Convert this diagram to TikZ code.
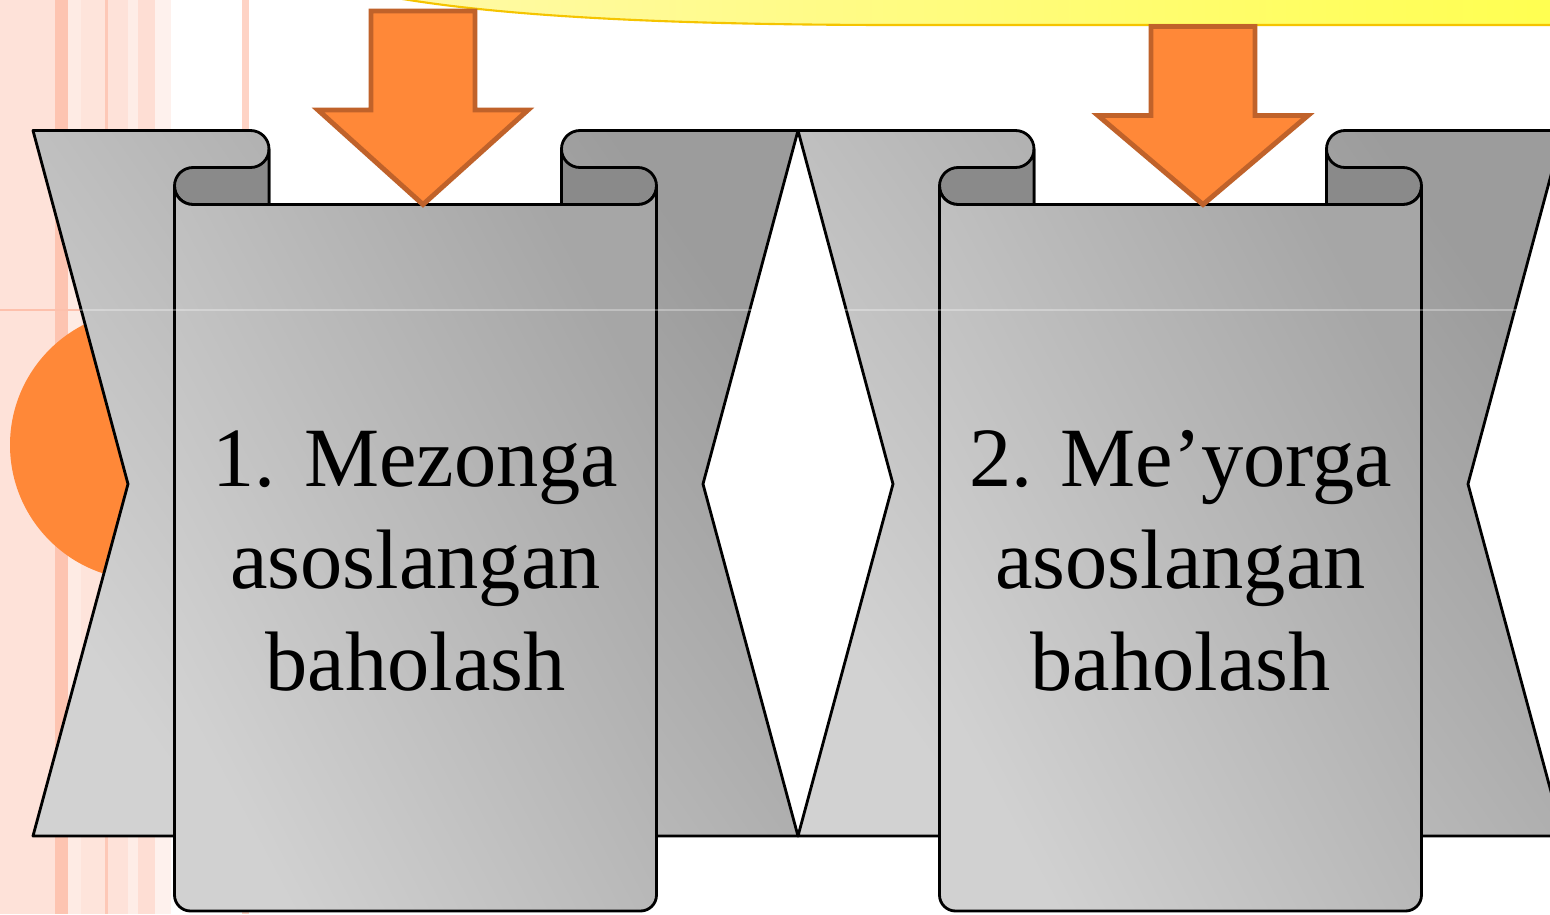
\documentclass[tikz,border=0pt]{standalone}
\usepackage{fontspec}
\setmainfont{Liberation Serif}
\definecolor{salmon}{HTML}{FDC0AC}
\definecolor{orangefill}{HTML}{FF8838}
\definecolor{orangeline}{HTML}{C0622A}
\definecolor{paleyellow}{HTML}{FFF9A8}
\definecolor{brightyellow}{HTML}{FFFF50}
\definecolor{yellowline}{HTML}{F5C400}
\begin{document}
\begin{tikzpicture}[x=0.01cm,y=-0.01cm,line join=round,
	ribbon/.style={draw=black,line width=0.8pt,top color=gray!78,bottom color=gray!35,shading angle=-55},
	curl/.style={draw=black,line width=0.8pt,fill=gray!92},
	front/.style={draw=black,line width=0.8pt,top color=gray!70,bottom color=gray!36,shading angle=-62},
	bigarrow/.style={draw=orangeline,fill=orangefill,line width=1.4pt,line join=miter},
	scrolltext/.style={align=center,font=\fontsize{24}{29}\selectfont,inner sep=0pt}]
				\clip (0,0) rectangle (1550,914);
				\fill[white] (0,0) rectangle (1550,914);
				\foreach \a/\b/\c in {0/55/46,55/68/94,68/81/32,81/105/43,105/108/87,108/128/46,128/138/29,138/155/52,155/171/22,242/249/70}
				\fill[salmon!\c] (\a,0) rectangle (\b,914);
				\draw[salmon,line width=0.3pt] (0,310) -- (250,310);
				\fill[orangefill] (145,445) circle[radius=135];
				\draw[yellowline,line width=0.6pt,left color=paleyellow,right color=brightyellow] (380,-5) .. controls (480,14) and (640,25) .. (900,25) -- (1560,25) -- (1560,-5) -- cycle;
				% two scrolls
				\foreach \dx/\num/\word in {0/1/Mezonga,765/2/Me’yorga}{
				\begin{scope}[shift={(\dx,0)}]
				\draw[ribbon] (33,130.5) -- (250.5,130.5) arc[start angle=-90,end angle=0,radius=18.5] -- (269,204.5) -- (561.5,204.5) -- (561.5,149) arc[start angle=180,end angle=270,radius=18.5] -- (798,130.5) -- (703,484) -- (798,836) -- (33,836) -- (128,484) -- cycle;
				\draw[curl] (193,167.5) -- (250.5,167.5) arc[start angle=90,end angle=0,radius=18.5] -- (269,204.5) -- (193,204.5) arc[start angle=90,end angle=270,radius=18.5] -- cycle;
				\draw[curl] (561.5,149) arc[start angle=180,end angle=90,radius=18.5] -- (638,167.5) arc[start angle=-90,end angle=90,radius=18.5] -- (561.5,204.5) -- cycle;
				\draw[front] (174.5,186) arc[start angle=180,end angle=90,radius=18.5] -- (638,204.5) arc[start angle=90,end angle=0,radius=18.5] -- (656.5,895) arc[start angle=0,end angle=90,radius=16] -- (190.5,911) arc[start angle=90,end angle=180,radius=16] -- cycle;
				\node[scrolltext] (txt\num) at (415.5,561) {\num. \word\\asoslangan\\baholash};
				\end{scope}}
				\draw[white,opacity=0.3,line width=0.3pt] (80,310) -- (1550,310);
				\foreach \ax/\top/\head in {423/11/110,1203/26.5/115.5}
				\draw[bigarrow] (\ax-52,\top) -- (\ax+52,\top) -- (\ax+52,\head) -- (\ax+105,\head) -- (\ax,204.5) -- (\ax-105,\head) -- (\ax-52,\head) -- cycle;
		\end{tikzpicture}
\end{document}
